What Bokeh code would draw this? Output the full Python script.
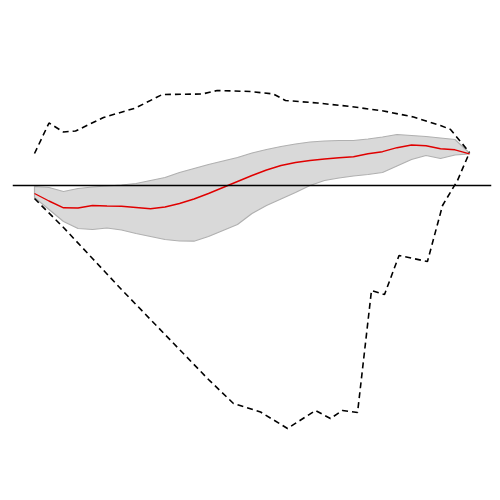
from bokeh.plotting import figure
from bokeh.models import Range1d, Span
from bokeh.embed import file_html
from bokeh.resources import INLINE

# horizon steps
horizon = list(range(31))

# central response (red line)
response = [-0.08, -0.155, -0.223, -0.225, -0.20, -0.205, -0.207, -0.22, -0.233, -0.215,
            -0.18, -0.135, -0.08, -0.02, 0.04, 0.10, 0.155, 0.20, 0.23, 0.25,
            0.265, 0.278, 0.288, 0.317, 0.338, 0.378, 0.405, 0.397, 0.367, 0.357, 0.317]

# confidence band
band_upper = [-0.01, -0.02, -0.06, -0.03, -0.015, -0.005, 0.005, 0.02, 0.05, 0.08,
              0.13, 0.17, 0.21, 0.245, 0.28, 0.325, 0.36, 0.39, 0.415, 0.435,
              0.445, 0.45, 0.45, 0.465, 0.485, 0.51, 0.50, 0.49, 0.475, 0.46, 0.325]
band_lower = [-0.12, -0.24, -0.36, -0.43, -0.44, -0.425, -0.445, -0.48, -0.51, -0.54,
              -0.555, -0.557, -0.51, -0.45, -0.39, -0.28, -0.20, -0.135, -0.07, 0.0,
              0.05, 0.075, 0.095, 0.11, 0.13, 0.195, 0.26, 0.30, 0.27, 0.305, 0.317]

# envelope (dashed lines)
env_upper_x = [0, 1.0, 2.0, 2.83, 4.76, 6.97, 8.81, 11.57, 12.6, 14.9, 16.48, 17.31,
               19.5, 21.79, 24.07, 26.14, 28.0, 28.69, 30.0]
env_upper_y = [0.32, 0.625, 0.535, 0.545, 0.68, 0.775, 0.91, 0.915, 0.95, 0.94, 0.915, 0.85,
               0.825, 0.79, 0.745, 0.685, 0.60, 0.56, 0.33]
env_lower_x = [0, 2, 4, 6, 8, 10, 12, 13.72, 15.59, 17.45, 19.38, 20.41, 21.24, 22.28,
               23.24, 24.14, 25.14, 27.1, 28.14, 29.17, 30.0]
env_lower_y = [-0.13, -0.42, -0.73, -1.04, -1.34, -1.64, -1.94, -2.18, -2.265, -2.43, -2.25,
               -2.33, -2.25, -2.27, -1.05, -1.09, -0.70, -0.76, -0.20, 0.05, 0.33]

p = figure(width=492, height=492, output_backend="svg", toolbar_location=None,
           x_axis_type=None, y_axis_type=None,
           x_range=Range1d(-1.517, 31.517), y_range=Range1d(-3.07, 1.77),
           min_border_left=12, min_border_right=1, min_border_top=8, min_border_bottom=0)
p.grid.visible = False
p.outline_line_color = None
p.background_fill_color = "white"
p.border_fill_color = "white"

# band
p.patch(horizon + horizon[::-1], band_upper + band_lower[::-1],
        fill_color="#d9d9d9", line_color="#b0b0b0", line_width=1.2)

# zero line
p.add_layout(Span(location=0, dimension="width", line_color="black", line_width=1.3))

# response
p.line(horizon, response, line_color="#e00000", line_width=1.4)

# envelope
p.line(env_upper_x, env_upper_y, line_color="black", line_width=1.6, line_dash="6 4")
p.line(env_lower_x, env_lower_y, line_color="black", line_width=1.6, line_dash="6 4")

open("out.html", "w").write(file_html(p, INLINE))
